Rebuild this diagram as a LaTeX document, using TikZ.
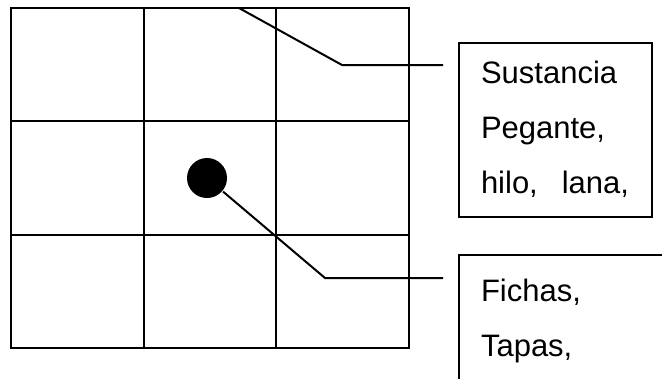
\documentclass[tikz,border=0pt]{standalone}
\usepackage{fontspec}
\setmainfont{Liberation Sans}
\usetikzlibrary{positioning}

\begin{document}
\begin{tikzpicture}[x=1pt,y=-1pt,line width=2pt,
	caja/.style={draw,rectangle,anchor=north west,align=left,inner xsep=22pt,text height=23pt,font=\fontsize{31}{55}\selectfont}]
	
	\useasboundingbox (0,0) rectangle (662,378);
	\clip (0,0) rectangle (662,378);
	
	% cuadricula
	\draw (11,8) rectangle (409,348);
	\draw (144,8)--(144,348);
	\draw (276,8)--(276,348);
	\draw (11,121)--(409,121);
	\draw (11,235)--(409,235);
	
	\node[circle,fill,minimum size=40pt,inner sep=0pt] (ficha) at (207,178) {};
	
	\node[caja,text width=149pt,inner ysep=17pt,text depth=117pt] (sustancia) at (458,42) {Sustancia\\Pegante,\\hilo,\hspace{24pt}lana,};
	\node[caja,text width=200pt,inner ysep=23pt,text depth=120pt] (fichas) at (458,254) {Fichas,\\Tapas,};
	
	\coordinate (sust-ini) at (239,8);
	\coordinate (sust-codo) at (342,65);
	\coordinate (sust-fin) at (443,65);
	\coordinate (fichas-codo) at (325,278);
	\coordinate (fichas-fin) at (443,278);
	
	\draw (sust-ini)--(sust-codo)--(sust-fin);
	\draw (ficha)--(fichas-codo)--(fichas-fin);
	
\end{tikzpicture}
\end{document}
